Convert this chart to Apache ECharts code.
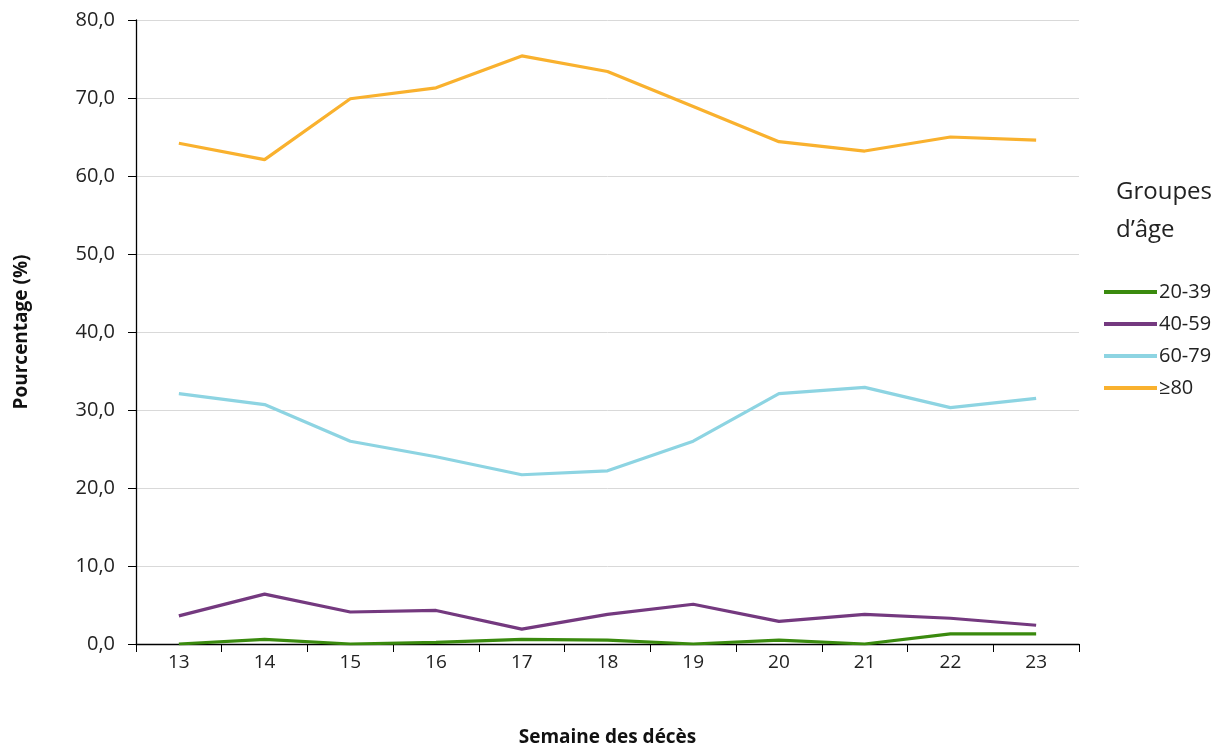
<!DOCTYPE html>
<html><head><meta charset="utf-8">
<script src="https://cdn.jsdelivr.net/npm/echarts@6/dist/echarts.min.js"></script>
<style>html,body{margin:0;padding:0;background:#fff}#c{width:1223px;height:749px}</style>
</head><body><div id="c"></div>
<script>
const weeks = ['13','14','15','16','17','18','19','20','21','22','23'];
const seriesNames = ['20-39','40-59','60-79','≥80'];
const s2039 = [0.0,0.6,0.0,0.2,0.6,0.5,0.0,0.5,0.0,1.3,1.3];
const s4059 = [3.6,6.4,4.1,4.3,1.9,3.8,5.1,2.9,3.8,3.3,2.4];
const s6079 = [32.1,30.7,26.0,24.0,21.7,22.2,26.0,32.1,32.9,30.3,31.5];
const s80 = [64.2,62.1,69.9,71.3,75.4,73.4,68.9,64.4,63.2,65.0,64.6];
const colors = ['#3A8A0E','#74397F','#8DD4E2','#F9B12E'];
const data = [s2039,s4059,s6079,s80];
const font = "'Open Sans', 'Noto Sans', sans-serif";
const chart = echarts.init(document.getElementById('c'));
chart.setOption({
  animation:false,
  color: colors,
  grid:{left:136,right:144,top:20,bottom:105,containLabel:false,outerBoundsMode:'none'},
  title:{text:'Groupes\nd’âge',left:1111,top:168,textStyle:{fontFamily:font,fontSize:24,fontWeight:'normal',color:'#222',lineHeight:38}},
  legend:{orient:'vertical',left:1099,top:277,itemWidth:53,itemHeight:4,itemGap:12,
    icon:'rect',textStyle:{fontFamily:font,fontSize:20,color:'#222',padding:[0,0,0,-3]},
    data:seriesNames},
  xAxis:{type:'category',data:weeks,boundaryGap:true,
    name:'Semaine des décès',nameLocation:'middle',nameGap:84,
    nameTextStyle:{fontFamily:font,fontSize:19,fontWeight:'bold',color:'#111'},
    axisLine:{lineStyle:{color:'#000',width:1.3}},
    axisTick:{show:true,length:8,alignWithLabel:false,lineStyle:{color:'#000'}},
    axisLabel:{fontFamily:font,fontSize:19,color:'#222',margin:9}},
  yAxis:{type:'value',min:0,max:80,interval:10,
    name:'Pourcentage (%)',nameLocation:'middle',nameGap:105,
    nameTextStyle:{fontFamily:font,fontSize:19,fontWeight:'bold',color:'#111'},
    axisLine:{show:true,lineStyle:{color:'#000',width:1.3}},
    axisTick:{show:true,length:8,lineStyle:{color:'#000'}},
    axisLabel:{fontFamily:font,fontSize:20,color:'#222',margin:21,formatter:v=>v.toFixed(1).replace('.',',')},
    splitLine:{show:true,lineStyle:{color:'#D9D9D9',width:1}}},
  series: seriesNames.map((n,i)=>({name:n,type:'line',data:data[i],symbol:'none',
    lineStyle:{width:3.2,color:colors[i]},itemStyle:{color:colors[i]}}))
});
</script></body></html>
